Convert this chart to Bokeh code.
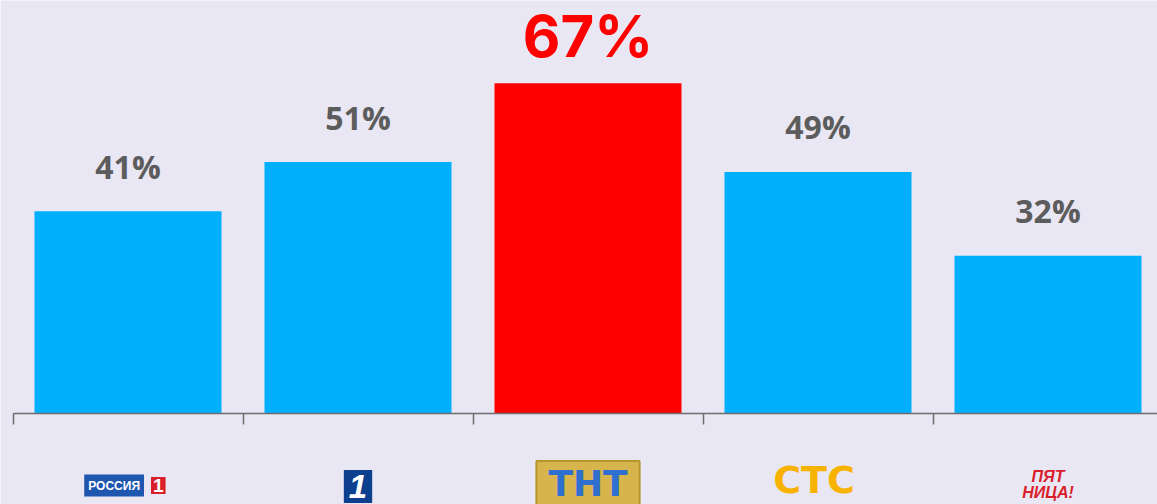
from bokeh.plotting import figure
from bokeh.models import ColumnDataSource, Range1d, FixedTicker
from bokeh.core.properties import value
from bokeh.embed import file_html
from bokeh.resources import INLINE

# ---- data ----
channels = ["Россия 1", "Первый канал", "ТНТ", "СТС", "Пятница!"]
shares = [41, 51, 67, 49, 32]
share_labels = ["41%", "51%", "67%", "49%", "32%"]
logo_texts = ["РОССИЯ 1", "1", "ТНТ", "СТС", "ПЯТ\nНИЦА!"]
highlight = "ТНТ"

# ---- styling ----
W, H = 1157, 504
BASE_PX = 413          # pixel row of the zero line
PX_PER_PCT = 4.93
PITCH = 230.0
FIRST_CENTER = 127.5

xs = list(range(len(channels)))
is_hi = [c == highlight for c in channels]
bar_colors = ["#ff0000" if h else "#00b0ff" for h in is_hi]

src = ColumnDataSource(dict(x=xs, top=shares, color=bar_colors, lab=share_labels))
gray_idx = [i for i, h in enumerate(is_hi) if not h]
hi_idx = [i for i, h in enumerate(is_hi) if h]
src_gray = ColumnDataSource(dict(x=[xs[i] for i in gray_idx],
                                 top=[shares[i] for i in gray_idx],
                                 lab=[share_labels[i] for i in gray_idx]))
src_hi = ColumnDataSource(dict(x=[xs[i] for i in hi_idx],
                               top=[shares[i] for i in hi_idx],
                               lab=[share_labels[i] for i in hi_idx]))

x0 = -FIRST_CENTER / PITCH
x1 = (W - FIRST_CENTER) / PITCH
y1 = BASE_PX / PX_PER_PCT
y0 = -(H - BASE_PX) / PX_PER_PCT

p = figure(width=W, height=H, output_backend="svg", toolbar_location=None,
           x_range=Range1d(x0, x1), y_range=Range1d(y0, y1),
           min_border=0, min_border_left=0, min_border_right=0,
           min_border_top=0, min_border_bottom=0)
p.background_fill_color = "#e9e7f3"
p.border_fill_color = "#e9e7f3"
p.outline_line_color = None
p.grid.visible = False
p.yaxis.visible = False

ticks = [i - 0.5 for i in xs]
ax = p.xaxis[0]
ax.fixed_location = 0
ax.ticker = FixedTicker(ticks=ticks)
ax.major_label_overrides = {t: "" for t in ticks}
ax.bounds = (-0.5, x1)
ax.axis_line_color = "#6e6e6e"
ax.axis_line_width = 1.5
ax.major_tick_line_color = "#6e6e6e"
ax.major_tick_line_width = 1.5
ax.major_tick_in = 0
ax.major_tick_out = 11
ax.minor_tick_line_color = None
ax.major_label_standoff = 0

p.vbar(x="x", top="top", bottom=0, width=187 / PITCH, color="color",
       line_color=None, source=src)

p.text(x="x", y="top", text="lab", text_color="#5c5c5c", text_font_size="32px",
       text_font=value("Open Sans"), text_font_style="bold",
       text_align="center", text_baseline="alphabetic", y_offset=-45, source=src_gray)
p.text(x="x", y="top", text="lab", text_color="#ff0000", text_font_size="58px",
       text_font=value("Inter"), text_font_style="bold",
       text_align="center", text_baseline="alphabetic", y_offset=-47, source=src_hi)

# ---- channel logos (as text) ----
logo_y = -(485 - BASE_PX) / PX_PER_PCT

# Россия 1
p.text(x=[xs[0]], y=[logo_y], text=["РОССИЯ"], text_color="white",
       text_font=value("Liberation Sans"), text_font_style="bold",
       text_font_size="12px", text_align="right", text_baseline="middle",
       x_offset=16, background_fill_color="#1f56b0", padding=4)
p.text(x=[xs[0]], y=[logo_y], text=["1"], text_color="white",
       text_font=value("Liberation Sans"), text_font_style="bold",
       text_font_size="19px", text_align="left", text_baseline="middle",
       x_offset=23, background_fill_color="#d9202a", padding=2)

# Первый канал
p.text(x=[xs[1]], y=[logo_y], text=[logo_texts[1]], text_color="white",
       text_font=value("Liberation Sans"), text_font_style="bold italic",
       text_font_size="33px", text_align="center", text_baseline="middle",
       background_fill_color="#0d3f8f", padding=5, y_offset=1)

# ТНТ
p.text(x=[xs[2]], y=[logo_y], text=[logo_texts[2]], text_color="#2f6fcf",
       text_font=value("DejaVu Sans"), text_font_style="bold",
       text_font_size="36px", text_align="center", text_baseline="middle",
       background_fill_color="#d8b44c", border_line_color="#b8962f",
       border_line_width=2, padding=dict(x=12, y=2), y_offset=-2)

# СТС
p.text(x=[xs[3]], y=[logo_y], text=[logo_texts[3]], text_color="#f7b300",
       text_font=value("DejaVu Sans"), text_font_style="bold",
       text_font_size="38px", text_align="center", text_baseline="middle",
       x_offset=-4, y_offset=-6)

# Пятница!
p.text(x=[xs[4]], y=[logo_y], text=[logo_texts[4]], text_color="#d9202a",
       text_font=value("Liberation Sans"), text_font_style="bold italic",
       text_font_size="16px", text_align="center", text_baseline="middle",
       text_line_height=0.9, y_offset=-1)

open("out.html", "w").write(file_html(p, INLINE))
